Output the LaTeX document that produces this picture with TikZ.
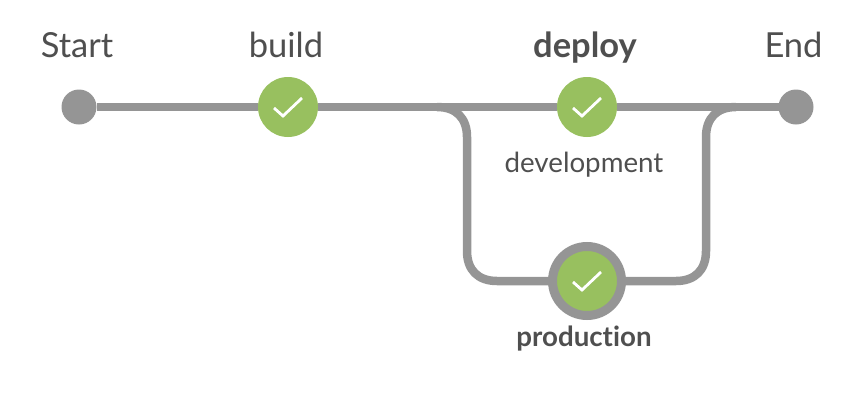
\documentclass[tikz,border=0pt]{standalone}
\usepackage{fontspec}
\setmainfont[Ligatures=NoCommon]{Lato}
\definecolor{pipe}{HTML}{959595}
\definecolor{okgreen}{HTML}{98C05F}
\definecolor{txt}{HTML}{4F4F4F}
\tikzset{
  x=1pt,y=-1pt,
  pipeline/.style={draw=pipe,line width=8.5pt},
  endpoint/.style={circle,fill=pipe,minimum size=35pt,inner sep=0pt,outer sep=0pt},
  stage/.style={circle,fill=okgreen,minimum size=60pt,inner sep=0pt,outer sep=0pt},
  ringstage/.style={circle,fill=okgreen,draw=pipe,line width=9pt,minimum size=69pt,inner sep=0pt,outer sep=0pt},
  tick/.style={draw=white,line width=2.8pt,miter limit=10},
  label/.style={text=txt,font=\fontsize{34.5}{40}\selectfont,anchor=base},
  sublabel/.style={text=txt,font=\fontsize{27.7}{32}\selectfont,anchor=base},
}
\newcommand{\okmark}[1]{\draw[tick] ([shift={(-14,1)}]#1.center) -- ([shift={(-5,9)}]#1.center) -- ([shift={(14,-9)}]#1.center);}
\begin{document}
\begin{tikzpicture}
\useasboundingbox (0,0) rectangle (862,410);
\node[endpoint] (start) at (79,107) {};
\node[stage] (build) at (288,107) {};
\node[stage] (dev) at (587,107) {};
\node[ringstage] (prod) at (587,281) {};
\node[endpoint] (end) at (796,107) {};
\draw[pipeline] (start) -- (build);
\draw[pipeline] (build) -- (dev);
\draw[pipeline] (dev) -- (end);
\draw[pipeline] (437,107) .. controls (456,107) and (467,118) .. (467,137) -- (467,251) .. controls (467,270) and (478,281) .. (497,281) -- (prod);
\draw[pipeline] (prod) -- (676,281) .. controls (695,281) and (706,270) .. (706,251) -- (706,137) .. controls (706,118) and (717,107) .. (736,107);
\okmark{build}
\okmark{dev}
\okmark{prod}
\node[label] (tstart) at (77,57) {Start};
\node[label] (tbuild) at (286,57) {build};
\node[label] (tdeploy) at (585,57) {\bfseries deploy};
\node[label] (tend) at (793.5,57) {End};
\node[sublabel] (tdev) at (584,172) {development};
\node[sublabel] (tprod) at (584,346) {\bfseries production};
\end{tikzpicture}
\end{document}
